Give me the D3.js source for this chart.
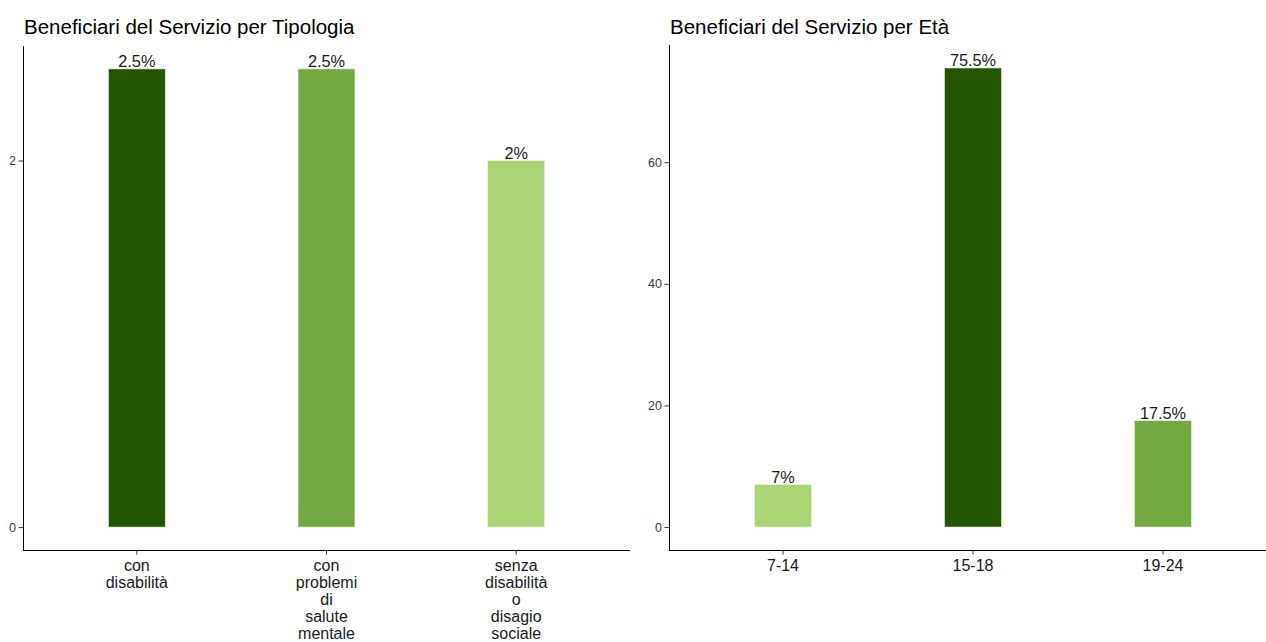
<!DOCTYPE html>
<html>
<head>
<meta charset="utf-8">
<script src="https://cdn.jsdelivr.net/npm/d3@7"></script>
<style>
  html, body { margin: 0; padding: 0; background: #ffffff; }
  svg { display: block; font-family: "Liberation Sans", Arial, sans-serif; }
</style>
</head>
<body>
<svg id="chart" width="1266" height="642"></svg>
<script>
// ---- Data ----
const tipologiaCategories = ["con disabilità", "con problemi di salute mentale", "senza disabilità o disagio sociale"];
const tipologiaValues = [2.5, 2.5, 2];
const tipologiaColors = ["#245501", "#73a942", "#aad576"];
const tipologiaTicks = [0, 2];

const etaCategories = ["7-14", "15-18", "19-24"];
const etaValues = [7, 75.5, 17.5];
const etaColors = ["#aad576", "#245501", "#73a942"];
const etaTicks = [0, 20, 40, 60];

const titles = ["Beneficiari del Servizio per Tipologia", "Beneficiari del Servizio per Età"];

// ---- Drawing ----
const svg = d3.select("#chart");

function drawPanel(opts) {
  const { title, categories, values, colors, ticks, x0, x1, yTop, yBottom } = opts;
  const g = svg.append("g");
  const maxV = d3.max(values);
  const pad = (maxV - 0) * 0.05;
  const y = d3.scaleLinear().domain([-pad, maxV + pad]).range([yBottom, yTop]);
  const x = d3.scaleBand().domain(categories).range([x0, x1]).paddingInner(0.7).paddingOuter(0.45);

  // bars
  g.selectAll("rect.bar").data(values).join("rect")
    .attr("class", "bar")
    .attr("x", (d, i) => x(categories[i]))
    .attr("width", x.bandwidth())
    .attr("y", d => y(d))
    .attr("height", d => y(0) - y(d))
    .attr("fill", (d, i) => colors[i])
    .attr("stroke", "#eef5e6")
    .attr("stroke-width", 0.6);

  // value labels
  g.selectAll("text.val").data(values).join("text")
    .attr("class", "val")
    .attr("x", (d, i) => x(categories[i]) + x.bandwidth() / 2)
    .attr("y", d => y(d) - 1.5)
    .attr("text-anchor", "middle")
    .attr("font-size", "16.3px")
    .attr("fill", "#1a1a1a")
    .text(d => d + "%");

  // y axis
  const yAxis = d3.axisLeft(y).tickValues(ticks).tickFormat(d3.format("d"))
    .tickSize(4.5).tickSizeOuter(0).tickPadding(2.5);
  const ya = g.append("g").attr("transform", `translate(${x0},0)`).call(yAxis);
  ya.select(".domain").attr("stroke", "#000").attr("stroke-width", 1).attr("d", `M0.5,${yTop}V${yBottom}`);
  ya.selectAll(".tick line").attr("stroke", "#333");
  ya.selectAll(".tick text").attr("font-size", "12.5px").attr("fill", "#3a3a3a")
    .attr("font-family", "Liberation Sans, Arial, sans-serif");

  // x axis
  const xAxis = d3.axisBottom(x).tickSize(4.5).tickSizeOuter(0).tickPadding(3);
  const xa = g.append("g").attr("transform", `translate(0,${yBottom})`).call(xAxis);
  xa.select(".domain").attr("stroke", "#000").attr("stroke-width", 1.1).attr("d", `M${x0},0.5H${x1}`);
  xa.selectAll(".tick line").attr("stroke", "#333");
  xa.selectAll(".tick text").each(function(d) {
    const t = d3.select(this);
    t.text(null)
      .attr("font-size", "16px")
      .attr("fill", "#1a1a1a")
      .attr("font-family", "Liberation Sans, Arial, sans-serif")
      .attr("dy", null)
      .attr("y", 0);
    d.split(" ").forEach((w, i) => {
      t.append("tspan").attr("x", 0).attr("y", 20.5 + i * 17.2).text(w);
    });
  });

  // title
  svg.append("text")
    .attr("x", x0 + 1)
    .attr("y", 33.5)
    .attr("font-size", "20.5px")
    .attr("fill", "#000")
    .text(title);
}

drawPanel({
  title: titles[0], categories: tipologiaCategories, values: tipologiaValues,
  colors: tipologiaColors, ticks: tipologiaTicks, x0: 23, x1: 630, yTop: 46, yBottom: 550
});
drawPanel({
  title: titles[1], categories: etaCategories, values: etaValues,
  colors: etaColors, ticks: etaTicks, x0: 669, x1: 1277, yTop: 45, yBottom: 550
});
</script>
</body>
</html>
